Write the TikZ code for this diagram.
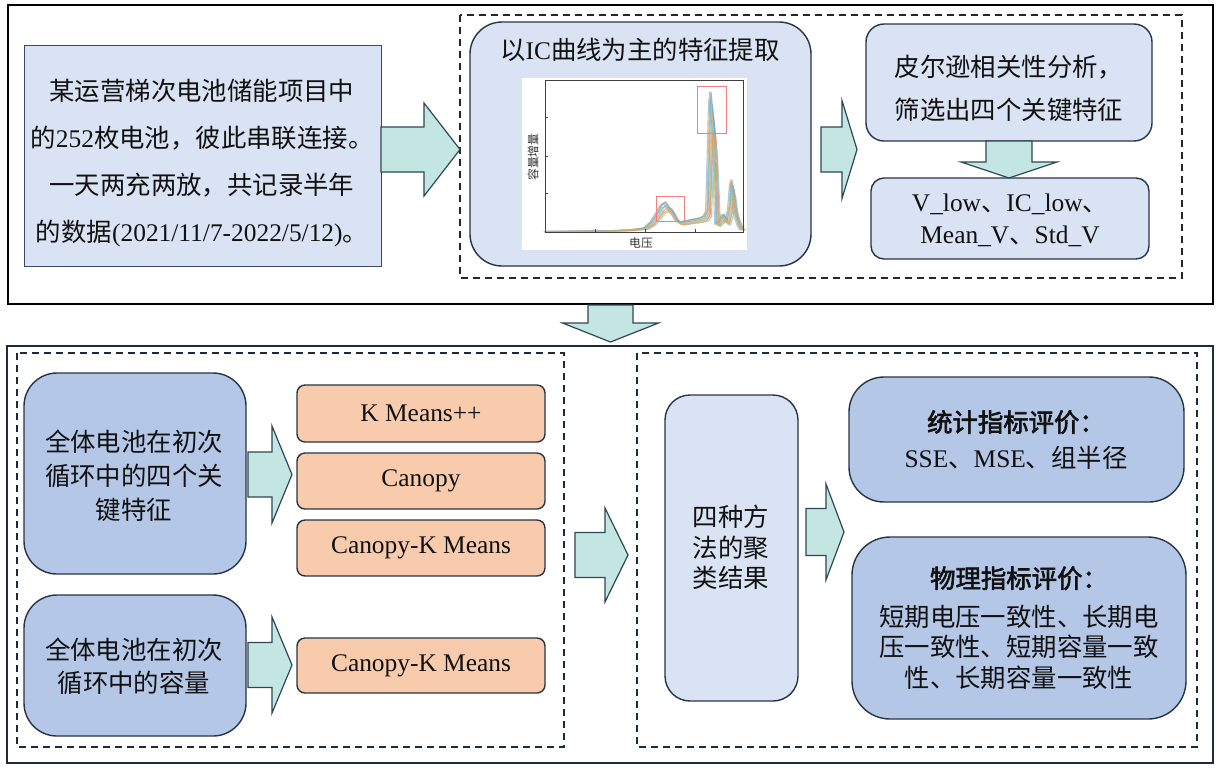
\documentclass[tikz,border=0pt]{standalone}
\usepackage{fontspec}
\setmainfont{Liberation Serif}
\newfontfamily\cjk{Noto Sans CJK SC}[AutoFakeBold=2.5]
\newfontfamily\lat{Liberation Serif}
\newcommand\La[1]{{\lat #1}}
\definecolor{lightbox}{HTML}{DAE3F3}
\definecolor{midbox}{HTML}{B4C7E7}
\definecolor{orangebox}{HTML}{F8CBAD}
\definecolor{arrowfill}{HTML}{C4E6E2}
\definecolor{arrowbd}{HTML}{2E4756}
\definecolor{bd}{HTML}{263545}
\definecolor{bdl}{HTML}{3A4A6A}
\definecolor{navy}{HTML}{1C2B3A}
\definecolor{txtc}{HTML}{111111}
\definecolor{ca}{HTML}{F0A050}
\definecolor{cb}{HTML}{6FA8D0}
\definecolor{cc}{HTML}{7CC8C0}
\definecolor{cd}{HTML}{E8806A}
\definecolor{ce}{HTML}{9AB8D8}
\definecolor{cf}{HTML}{F4C080}
\definecolor{redbox}{HTML}{F08080}
\newcommand\barrowR[6]{\draw[blk] (#1,{#4-#5}) -- (#2,{#4-#5}) -- (#2,{#4-#6}) -- (#3,#4) -- (#2,{#4+#6}) -- (#2,{#4+#5}) -- (#1,{#4+#5}) -- cycle;}
\newcommand\barrowD[6]{\draw[blk] ({#1-#5},#2) -- ({#1-#5},#3) -- ({#1-#6},#3) -- (#1,#4) -- ({#1+#6},#3) -- ({#1+#5},#3) -- ({#1+#5},#2) -- cycle;}
\begin{document}
\begin{tikzpicture}[x=0.5pt,y=-0.5pt,
  sz/.style 2 args={minimum width=#1*0.5pt, minimum height=#2*0.5pt},
  boxa/.style={draw=bd, line width=0.7pt, inner sep=0pt},
  txt/.style={font=\cjk\fontsize{12.7}{#1}\selectfont, align=center, inner sep=0pt, text=txtc},
  txt/.default=16,
  blk/.style={draw=arrowbd, fill=arrowfill, line width=0.6pt, line join=miter},
  frame/.style={line width=1pt},
  dbox/.style={line width=0.75pt, dash pattern=on 3.5pt off 2.5pt}
]
\useasboundingbox (0,0) rectangle (1222,768);
% frames
\draw[frame, draw=black] (8,5) rectangle (1213,304);
\draw[frame, draw=navy] (7,346) rectangle (1213,763);
\draw[dbox, draw=black!85] (460,15) rectangle (1182,278);
\draw[dbox, draw=navy] (17,353) rectangle (564,747);
\draw[dbox, draw=navy] (637,353) rectangle (1197,747);

% top-left source box
\node[boxa, draw=bdl, line width=0.5pt, fill=lightbox, sz={357}{221}] (src) at (202.5,155.5) {};
\node[txt=23.35] (srct) at (202,163) {某运营梯次电池储能项目中\\的\La{252}枚电池，彼此串联连接。\\一天两充两放，共记录半年\\的数据\La{(2021/11/7-2022/5/12)}。};

% IC box
\node[boxa, fill=lightbox, rounded corners=16pt, sz={341}{244}] (ic) at (640.5,144) {};
\node[txt] (ict) at (640,50) {以\La{IC}曲线为主的特征提取};
\node[fill=white, inner sep=0pt, sz={225}{172}] (chart) at (634.5,164) {};
% chart curves
\foreach \dx/\s/\c in {2.4/0.82/cd, -2.4/0.95/ce, 1.2/0.9/cb, 3.5/0.7/cc, -1.2/1.0/ca, 0.6/0.78/cf, 0/1/cb, -0.6/0.88/cc, 1.8/0.72/ca}{
  \begin{scope}[shift={(\dx,232)}, yscale=\s]
    \draw[color=\c, line width=0.55pt, opacity=0.75, line join=round]
      (546,-0.5) -- (600,-1) -- (630,-2) -- (645,-4) -- (652,-10) -- (658,-20) -- (662,-27) -- (666,-30) -- (669,-25) -- (672,-23) -- (676,-14) -- (680,-10) -- (690,-12) -- (700,-14) -- (705,-16) -- (708,-22) -- (709.5,-80) -- (711,-140) -- (712.5,-125) -- (714,-110) -- (715.5,-60) -- (717,-8) -- (720,-12) -- (724,-18) -- (727,-10) -- (730,-25) -- (732,-52) -- (734,-30) -- (736,-18) -- (739,-8) -- (742,-2);
  \end{scope}
}
\draw[black!75, line width=0.3pt] (545,80) rectangle (743,232);
\foreach \yy in {117,156,193} \draw[black!75, line width=0.3pt] (545,\yy) -- (548,\yy);
\foreach \xx in {595,645,695} \draw[black!75, line width=0.3pt] (\xx,232) -- (\xx,229);
\draw[redbox, line width=0.45pt] (656,196) rectangle (684,221);
\draw[redbox, line width=0.45pt] (697,86) rectangle (726,133);
\node[font=\cjk\fontsize{5.9}{6}\selectfont, rotate=90, inner sep=0pt, text=black!80] (ylab) at (533,157) {容量增量};
\node[font=\cjk\fontsize{5.9}{6}\selectfont, inner sep=0pt, text=black!80] (xlab) at (641,243) {电压};

% Pearson box
\node[boxa, fill=lightbox, rounded corners=9pt, sz={286}{117}] (pear) at (1009,82.5) {};
\node[txt=21.5] (peart) at (1009,88.5) {皮尔逊相关性分析，\\筛选出四个关键特征};
% features box
\node[boxa, fill=lightbox, rounded corners=6.5pt, sz={278}{81}] (feat) at (1010,218.5) {};
\node[txt=16] (featt) at (1010,220) {\La{V\_low}、\La{IC\_low}、\\\La{Mean\_V}、\La{Std\_V}};

% bottom-left boxes
\node[boxa, fill=midbox, rounded corners=16.5pt, sz={222}{201}] (b1) at (135,473.5) {};
\node[txt=17] (b1t) at (134,476) {全体电池在初次\\循环中的四个关\\键特征};
\node[boxa, fill=midbox, rounded corners=16.5pt, sz={222}{141}] (b2) at (135,665.5) {};
\node[txt=16.5] (b2t) at (134,666.5) {全体电池在初次\\循环中的容量};

\node[boxa, fill=orangebox, rounded corners=4pt, sz={248}{57}, font=\lat\fontsize{12.7}{15}\selectfont, text=txtc] (m1) at (421,413.5) {K Means++};
\node[boxa, fill=orangebox, rounded corners=4pt, sz={248}{56}, font=\lat\fontsize{12.7}{15}\selectfont, text=txtc] (m2) at (421,481) {Canopy};
\node[boxa, fill=orangebox, rounded corners=4pt, sz={248}{56}, font=\lat\fontsize{12.7}{15}\selectfont, text=txtc] (m3) at (421,548) {Canopy-K Means};
\node[boxa, fill=orangebox, rounded corners=4pt, sz={248}{55}, font=\lat\fontsize{12.7}{15}\selectfont, text=txtc] (m4) at (421,665.5) {Canopy-K Means};

% results
\node[boxa, fill=lightbox, rounded corners=12.5pt, sz={133}{306}] (res) at (731.5,548) {};
\node[txt=15.25] (rest) at (731,547.5) {四种方\\法的聚\\类结果};
\node[boxa, fill=midbox, rounded corners=17.5pt, sz={335}{125}] (stat) at (1016.5,439.5) {};
\node[txt=18] (statt) at (1016,440) {{\bfseries 统计指标评价：}\\\La{SSE}、\La{MSE}、组半径};
\node[boxa, fill=midbox, rounded corners=19pt, sz={334}{182}] (phys) at (1019,628) {};
\node[txt=15.25] (physt) at (1019,628) {{\bfseries 物理指标评价：}\\[4pt]短期电压一致性、长期电\\压一致性、短期容量一致\\性、长期容量一致性};

% block arrows
\barrowR{381}{424}{460}{149.5}{22.5}{46.5}
\barrowR{821}{842}{857}{149.5}{22.5}{49}
\barrowD{1009}{141}{162}{178}{23}{48}
\barrowD{610.5}{305}{323}{342}{22.5}{48}
\barrowR{248}{272}{292}{474.5}{22.5}{48.5}
\barrowR{248}{272}{292}{665}{22.5}{48}
\barrowR{575}{605}{628}{555}{22.5}{47}
\barrowR{806}{826}{844}{532}{23.5}{48}
\end{tikzpicture}
\end{document}
